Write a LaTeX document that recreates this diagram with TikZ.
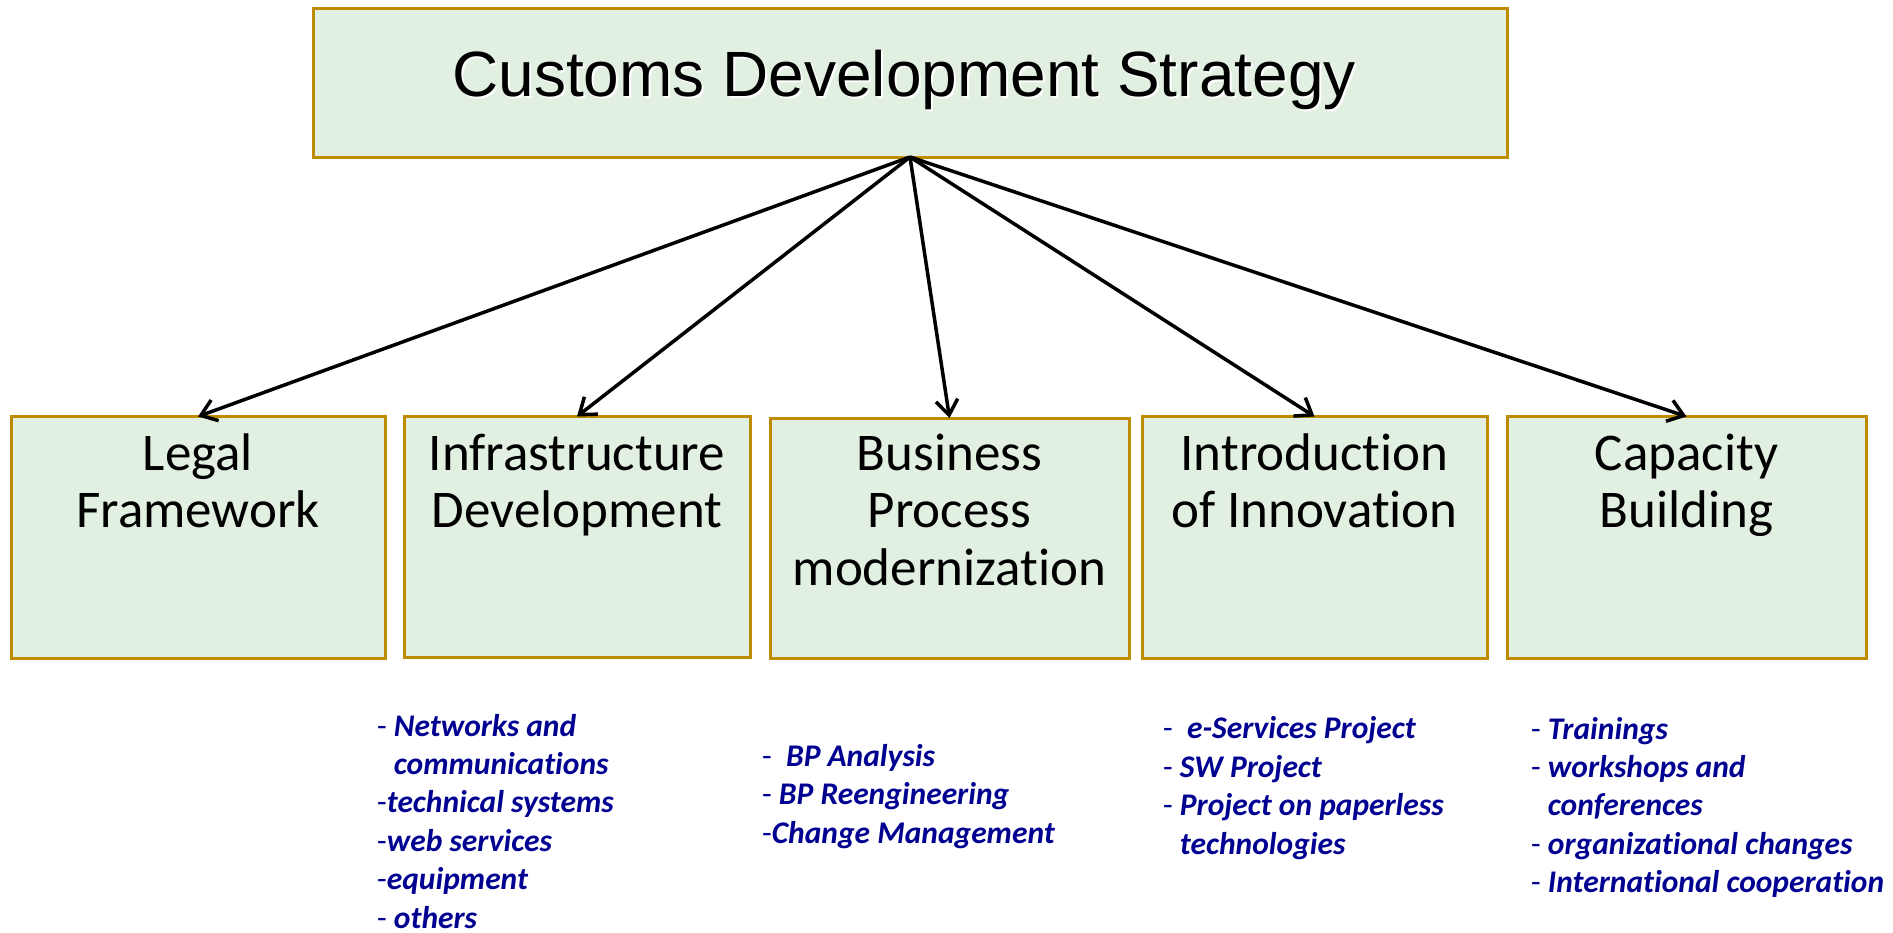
\documentclass[tikz,border=0pt]{standalone}
\usepackage{fontspec}
\setmainfont{Carlito}[Ligatures=NoCommon]
\newfontfamily\arialfont{Liberation Sans}
\usetikzlibrary{arrows.meta}
\definecolor{boxfill}{RGB}{226,240,226}
\definecolor{boxline}{RGB}{190,140,0}
\definecolor{listblue}{RGB}{0,0,145}
\newcommand\hy{{\normalfont -}}
\newcommand\ind{{\normalfont\hphantom{- }}}
\begin{document}
\begin{tikzpicture}[x=1pt,y=-1pt,
  box/.style={draw=boxline, fill=boxfill, line width=3pt, inner sep=0pt, outer sep=0pt},
  titlefont/.style={inner sep=0pt, anchor=base, font=\arialfont\fontsize{64}{70}\selectfont},
  boxtext/.style={font=\fontsize{53}{57.5}\selectfont, align=center, anchor=base, inner sep=0pt},
  listtext/.style={font=\fontsize{31.5}{38.4}\selectfont\bfseries\itshape, text=listblue, align=left, anchor=base west, inner sep=0pt},
  conn/.style={line width=3.5pt, -{Straight Barb[length=15pt,width=22pt]}}
]
\useasboundingbox (0,0) rectangle (1893,932);

\node[box, minimum width=1194pt, minimum height=149pt] (title) at (910,82.5) {};
\node[titlefont, text=white] (titleshadow) at (906,98) {Customs Development Strategy};
\node[titlefont] (titletext) at (904,96) {Customs Development Strategy};

\node[box, minimum width=374pt, minimum height=241.5pt] (legal) at (198,537.25) {};
\node[box, minimum width=346pt, minimum height=240.5pt] (infra) at (577,536.75) {};
\node[box, minimum width=359pt, minimum height=240pt] (bpm) at (949.5,538) {};
\node[box, minimum width=345pt, minimum height=241.5pt] (innov) at (1314.5,537.25) {};
\node[box, minimum width=359pt, minimum height=241.5pt] (cap) at (1686.5,537.25) {};

% anchor=base of a multi-line node is the baseline of its last line
\node[boxtext] (legalt) at (198,527.5) {Legal\\Framework};
\node[boxtext] (infrat) at (577,527.5) {Infrastructure\\Development};
\node[boxtext] (bpmt) at (949.5,585) {Business\\Process\\modernization};
\node[boxtext] (innovt) at (1314.5,527.5) {Introduction\\of Innovation};
\node[boxtext] (capt) at (1686.5,527.5) {Capacity\\Building};

\draw[conn] (title.south) -- (legal.north);
\draw[conn] (title.south) -- (infra.north);
\draw[conn] (title.south) -- (bpm.north);
\draw[conn] (title.south) -- (innov.north);
\draw[conn] (title.south) -- (cap.north);

\node[listtext] (infral) at (377,928) {\hy{} Networks and\\\ind communications\\\hy technical systems\\\hy web services\\\hy equipment\\\hy{} others};
\node[listtext] (bpml) at (762,843) {\hy{}\ \ BP Analysis\\\hy{} BP Reengineering\\\hy Change Management};
\node[listtext] (innovl) at (1163,854) {\hy{}\ \ e-Services Project\\\hy{} SW Project\\\hy{} Project on paperless\\\ind technologies};
\node[listtext] (capl) at (1531,892.6) {\hy{} Trainings\\\hy{} workshops and\\\ind conferences\\\hy{} organizational changes\\\hy{} International cooperation};
\end{tikzpicture}
\end{document}
